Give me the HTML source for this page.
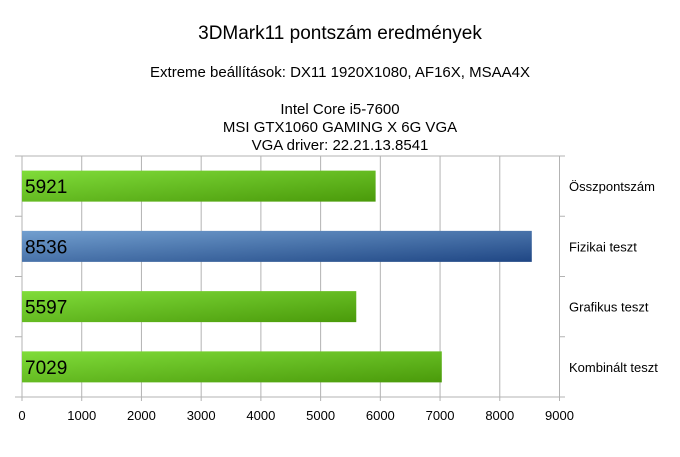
<!DOCTYPE html>
<html><head><meta charset="utf-8"><style>
body{margin:0;background:#fff;}
svg text{font-family:"Liberation Sans",sans-serif;fill:#000;}
</style></head><body>
<svg id="chart" width="680" height="452" xmlns="http://www.w3.org/2000/svg">
<defs>
<linearGradient id="gG" x1="0" y1="0" x2="1" y2="1"><stop offset="0" stop-color="#80dc3a"/><stop offset="1" stop-color="#4a9a0a"/></linearGradient>
<linearGradient id="gB" x1="0" y1="0" x2="1" y2="1"><stop offset="0" stop-color="#729fcf"/><stop offset="1" stop-color="#1f4684"/></linearGradient>
</defs>
<text x="340" y="39" font-size="19" text-anchor="middle">3DMark11 pontszám eredmények</text>
<text x="340" y="77" font-size="15" text-anchor="middle">Extreme beállítások: DX11 1920X1080, AF16X, MSAA4X</text>
<text x="340" y="114" font-size="15" text-anchor="middle">Intel Core i5-7600</text>
<text x="340" y="132" font-size="15" text-anchor="middle">MSI GTX1060 GAMING X 6G VGA</text>
<text x="340" y="150" font-size="15" text-anchor="middle">VGA driver: 22.21.13.8541</text>
<g id="grid"></g>
<g id="bars"></g>
</svg>
<script>
const categories=["Összpontszám","Fizikai teszt","Grafikus teszt","Kombinált teszt"];
const values=[5921,8536,5597,7029];
const colors=["gG","gB","gG","gG"];
const ticks=[0,1000,2000,3000,4000,5000,6000,7000,8000,9000];
const L=22,R=559.5,T=156,B=397,MAX=9000;
const x=v=>L+(R-L)*v/MAX;
const band=(B-T)/categories.length;
const ns="http://www.w3.org/2000/svg";
const grid=document.getElementById('grid'),bars=document.getElementById('bars');
function mk(tag,attrs,parent){const e=document.createElementNS(ns,tag);for(const k in attrs)e.setAttribute(k,attrs[k]);parent.appendChild(e);return e;}
ticks.forEach(t=>{
  const l=mk('line',{x1:x(t),x2:x(t),y1:T,y2:B+4,stroke:'#b3b3b3','stroke-width':1},grid);
  
  
  const tx=mk('text',{x:x(t),y:B+23,'font-size':13,'text-anchor':'middle'},grid);
  tx.textContent=t;
  
  
});
for(let i=0;i<=categories.length;i++){
  const y=T+band*i;
  const l=mk('line',{x1:15,x2:L,y1:y,y2:y,stroke:'#b3b3b3'},grid);
  
  
  const r=mk('line',{x1:R,x2:565,y1:y,y2:y,stroke:'#b3b3b3'},grid);
  
  
}
[T,B].forEach(y=>{const l=mk('line',{x1:L,x2:R,y1:y,y2:y,stroke:'#b3b3b3'},grid);
  
  });
categories.forEach((c,i)=>{
  const cy=T+band*(i+0.5);
  const r=mk('rect',{x:L,y:cy-15.5,width:x(values[i])-L,height:31,fill:'url(#'+colors[i]+')'},bars);
  
  
  const v=mk('text',{x:L+3,y:cy+7,'font-size':19},bars);
  v.textContent=values[i];
  
  
  const cl=mk('text',{x:569,y:cy+5,'font-size':13},bars);
  cl.textContent=c;
  
  
});
</script>
</body></html>
